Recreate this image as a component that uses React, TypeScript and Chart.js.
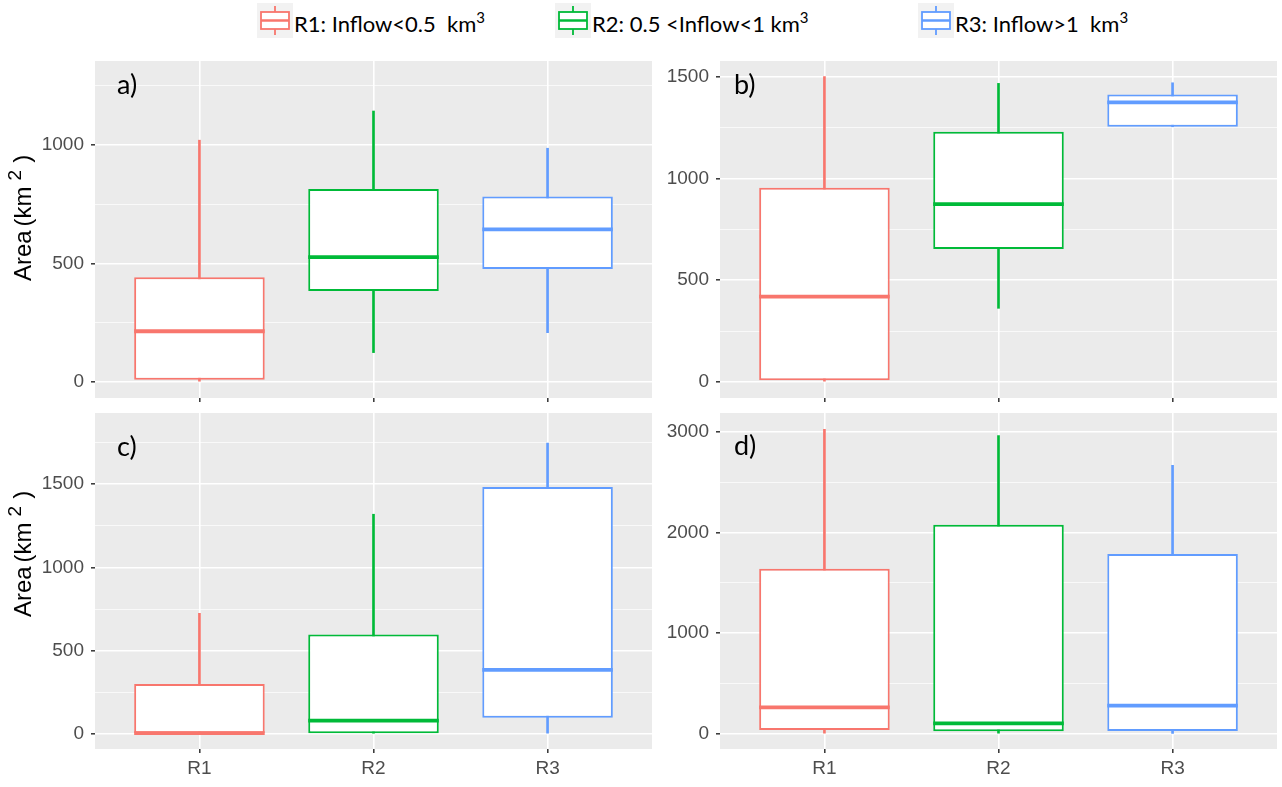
import React, { useEffect, useRef } from 'react';
import { Chart, registerables } from 'chart.js';

Chart.register(...registerables);

// Regions on the x axis and their colours
const regions = ['R1', 'R2', 'R3'];
const regionColors = ['#F8766D', '#00BA38', '#619CFF'];
const legendLabels = ['R1: Inflow<0.5  km', 'R2: 0.5 <Inflow<1 km', 'R3: Inflow>1  km'];
const panelTags = ['a)', 'b)', 'c)', 'd)'];
const yTitleWords = ['Area', '(km'];
const yTitleSup = '2';

// Panel a) five-number summaries (km²)
const aLow = [0, 124, 208];
const aQ1 = [10, 384, 477];
const aMedian = [214, 527, 644];
const aQ3 = [442, 814, 782];
const aHigh = [1020, 1143, 986];
const aTicks = [0, 500, 1000];
const aMinor = [250, 750, 1250];
const aRange = [-67.5, 1354];

// Panel b)
const bLow = [0, 362, 1254];
const bQ1 = [8, 653, 1254];
const bMedian = [419, 874, 1374];
const bQ3 = [954, 1229, 1413];
const bHigh = [1500, 1467, 1470];
const bTicks = [0, 500, 1000, 1500];
const bMinor = [250, 750, 1250];
const bRange = [-78.6, 1577];

// Panel c)
const cLow = [0, 0, 0];
const cQ1 = [0, 4, 98];
const cMedian = [5, 80, 385];
const cQ3 = [300, 597, 1483];
const cHigh = [725, 1320, 1747];
const cTicks = [0, 500, 1000, 1500];
const cMinor = [250, 750, 1250, 1750];
const cRange = [-90, 1928];

// Panel d)
const dLow = [0, 0, 5];
const dQ1 = [40, 27, 30];
const dMedian = [265, 106, 281];
const dQ3 = [1640, 2077, 1786];
const dHigh = [3023, 2960, 2666];
const dTicks = [0, 1000, 2000, 3000];
const dMinor = [500, 1500, 2500];
const dRange = [-149, 3185];

type PanelSpec = {
  tag: string;
  low: number[];
  q1: number[];
  median: number[];
  q3: number[];
  high: number[];
  ticks: number[];
  minor: number[];
  range: number[];
  showXLabels: boolean;
  showTitle: boolean;
  // canvas placement
  left: number;
  top: number;
  width: number;
  height: number;
  padTop: number;
  padRight: number;
  axisWidth: number;
  axisHeight: number;
  tagX: number;
  tagY: number;
  titleX: number;
  titleY: number;
};

const panels: PanelSpec[] = [
  {
    tag: panelTags[0], low: aLow, q1: aQ1, median: aMedian, q3: aQ3, high: aHigh,
    ticks: aTicks, minor: aMinor, range: aRange, showXLabels: false, showTitle: true,
    left: 0, top: 50, width: 660, height: 360, padTop: 11, padRight: 8, axisWidth: 95, axisHeight: 12,
    tagX: 117, tagY: 35, titleX: 24, titleY: 168,
  },
  {
    tag: panelTags[1], low: bLow, q1: bQ1, median: bMedian, q3: bQ3, high: bHigh,
    ticks: bTicks, minor: bMinor, range: bRange, showXLabels: false, showTitle: false,
    left: 660, top: 50, width: 622, height: 360, padTop: 11, padRight: 5, axisWidth: 60, axisHeight: 12,
    tagX: 74, tagY: 35, titleX: 0, titleY: 0,
  },
  {
    tag: panelTags[2], low: cLow, q1: cQ1, median: cMedian, q3: cQ3, high: cHigh,
    ticks: cTicks, minor: cMinor, range: cRange, showXLabels: true, showTitle: true,
    left: 0, top: 410, width: 660, height: 377, padTop: 3, padRight: 8, axisWidth: 95, axisHeight: 38,
    tagX: 117, tagY: 37, titleX: 24, titleY: 144,
  },
  {
    tag: panelTags[3], low: dLow, q1: dQ1, median: dMedian, q3: dQ3, high: dHigh,
    ticks: dTicks, minor: dMinor, range: dRange, showXLabels: true, showTitle: false,
    left: 660, top: 410, width: 622, height: 377, padTop: 3, padRight: 5, axisWidth: 60, axisHeight: 38,
    tagX: 74, tagY: 36, titleX: 0, titleY: 0,
  },
];

const AXIS_FONT = '"Liberation Sans", Arial, sans-serif';
const TAG_FONT = 'Lato, "Open Sans", sans-serif';
const PANEL_BG = '#EBEBEB';
const TICK_COLOR = '#333333';

// Draws the rotated "Area (km²)" axis title with a raised exponent
function drawYTitle(ctx: CanvasRenderingContext2D, cx: number, cy: number) {
  const big = `24px ${AXIS_FONT}`;
  const small = `19px ${AXIS_FONT}`;
  const pieces = [
    { t: yTitleWords[0], f: big, dy: 0, gap: 4 },
    { t: yTitleWords[1], f: big, dy: 0, gap: 6 },
    { t: yTitleSup, f: small, dy: -8, gap: 7 },
    { t: ')', f: big, dy: -1, gap: 0 },
  ];
  let total = 0;
  const widths = pieces.map((p) => {
    ctx.font = p.f;
    const w = ctx.measureText(p.t).width;
    total += w + p.gap;
    return w;
  });
  ctx.save();
  ctx.translate(cx, cy);
  ctx.rotate(-Math.PI / 2);
  ctx.fillStyle = '#000000';
  ctx.textBaseline = 'middle';
  ctx.textAlign = 'left';
  let x = -total / 2;
  pieces.forEach((p, i) => {
    ctx.font = p.f;
    ctx.fillText(p.t, x, p.dy);
    x += widths[i] + p.gap;
  });
  ctx.restore();
}

function makePanelPlugin(spec: PanelSpec) {
  return {
    id: 'panelDecor',
    beforeDraw(chart: any) {
      const { ctx, chartArea } = chart;
      ctx.save();
      ctx.fillStyle = PANEL_BG;
      ctx.fillRect(chartArea.left, chartArea.top, chartArea.right - chartArea.left, chartArea.bottom - chartArea.top);
      ctx.restore();
    },
    afterDatasetsDraw(chart: any) {
      const { ctx } = chart;
      const yScale = chart.scales.y;
      const meta = chart.getDatasetMeta(0);
      ctx.save();
      ctx.lineWidth = 3.8;
      ctx.lineCap = 'butt';
      meta.data.forEach((bar: any, i: number) => {
        const { x, width } = bar.getProps(['x', 'width'], true);
        const y = yScale.getPixelForValue(spec.median[i]);
        ctx.strokeStyle = regionColors[i];
        ctx.beginPath();
        ctx.moveTo(x - width / 2, y);
        ctx.lineTo(x + width / 2, y);
        ctx.stroke();
      });
      ctx.restore();
    },
    afterDraw(chart: any) {
      const { ctx } = chart;
      ctx.save();
      ctx.fillStyle = '#000000';
      ctx.font = `27px ${TAG_FONT}`;
      ctx.textBaseline = 'middle';
      ctx.textAlign = 'left';
      ctx.fillText(spec.tag, spec.tagX, spec.tagY);
      ctx.restore();
      if (spec.showTitle) drawYTitle(ctx, spec.titleX, spec.titleY);
    },
  };
}

function Panel({ spec }: { spec: PanelSpec }) {
  const ref = useRef<HTMLCanvasElement>(null);
  useEffect(() => {
    if (!ref.current) return;
    const allY = [...spec.ticks, ...spec.minor].sort((p, q) => p - q);
    const isMajor = (v: number) => spec.ticks.includes(v);
    const chart = new Chart(ref.current, {
      type: 'bar',
      data: {
        datasets: [
          {
            label: 'box',
            data: regions.map((_, i) => ({ x: i + 1, y: [spec.q1[i], spec.q3[i]] })) as any,
            backgroundColor: '#FFFFFF',
            borderColor: regionColors,
            borderWidth: 2,
            borderSkipped: false,
            barPercentage: 0.75,
            categoryPercentage: 1,
            grouped: false,
            order: 0,
          },
          {
            label: 'whisker',
            data: regions.map((_, i) => ({ x: i + 1, y: [spec.low[i], spec.high[i]] })) as any,
            backgroundColor: regionColors,
            borderWidth: 0,
            barThickness: 2,
            grouped: false,
            order: 1,
          },
        ],
      },
      options: {
        responsive: false,
        animation: false,
        events: [],
        layout: { padding: { top: spec.padTop, right: spec.padRight, left: 0, bottom: 0 } },
        plugins: { legend: { display: false }, tooltip: { enabled: false } },
        scales: {
          x: {
            type: 'linear',
            min: 0.4,
            max: 3.6,
            offset: false,
            afterBuildTicks: (axis: any) => {
              axis.ticks = regions.map((_, i) => ({ value: i + 1 }));
            },
            afterFit: (axis: any) => {
              axis.height = spec.axisHeight;
              axis.paddingLeft = 0;
              axis.paddingRight = 0;
            },
            border: { display: false },
            grid: {
              color: '#FFFFFF',
              lineWidth: 1.6,
              tickColor: TICK_COLOR,
              tickWidth: 1.5,
              tickLength: 4,
              offset: false,
            },
            ticks: {
              autoSkip: false,
              maxRotation: 0,
              padding: 4,
              color: '#4D4D4D',
              font: { family: AXIS_FONT, size: 19 },
              callback: (v: any) => (spec.showXLabels ? regions[Math.round(Number(v)) - 1] : ''),
            },
          },
          y: {
            type: 'linear',
            min: spec.range[0],
            max: spec.range[1],
            beginAtZero: false,
            afterBuildTicks: (axis: any) => {
              axis.ticks = allY.map((v) => ({ value: v }));
            },
            afterFit: (axis: any) => {
              axis.width = spec.axisWidth;
              axis.paddingTop = 0;
              axis.paddingBottom = 0;
            },
            border: { display: false },
            grid: {
              color: '#FFFFFF',
              lineWidth: (c: any) => (isMajor(c.tick?.value) ? 1.6 : 0.7),
              tickColor: (c: any) => (isMajor(c.tick?.value) ? TICK_COLOR : 'rgba(0,0,0,0)'),
              tickWidth: 1.5,
              tickLength: 4,
            },
            ticks: {
              autoSkip: false,
              padding: 7,
              color: '#4D4D4D',
              font: { family: AXIS_FONT, size: 19 },
              callback: (v: any) => (isMajor(Number(v)) ? String(v) : ''),
            },
          },
        },
      } as any,
      plugins: [makePanelPlugin(spec)],
    });
    return () => chart.destroy();
  }, [spec]);
  return (
    <canvas
      ref={ref}
      width={spec.width}
      height={spec.height}
      style={{ position: 'absolute', left: spec.left, top: spec.top, width: spec.width, height: spec.height }}
    />
  );
}

// Small boxplot glyph used as a legend key
function LegendKey({ color, left }: { color: string; left: number }) {
  return (
    <svg
      width={36}
      height={35}
      style={{ position: 'absolute', left, top: 3, background: '#F2F2F2' }}
    >
      <line x1={18} y1={3} x2={18} y2={32} stroke={color} strokeWidth={1.8} />
      <rect x={4} y={9} width={28} height={17} fill="#FFFFFF" stroke={color} strokeWidth={1.8} />
      <line x1={4} y1={17.5} x2={32} y2={17.5} stroke={color} strokeWidth={2.5} />
    </svg>
  );
}

const legendKeyLeft = [257, 555, 918];

export default function App() {
  return (
    <div style={{ position: 'absolute', left: 0, top: 0, width: 1282, height: 787, background: '#FFFFFF', overflow: 'hidden' }}>
      {legendLabels.map((label, i) => (
        <React.Fragment key={label}>
          <LegendKey color={regionColors[i]} left={legendKeyLeft[i]} />
          <div
            style={{
              position: 'absolute',
              left: legendKeyLeft[i] + 37,
              top: 10,
              fontFamily: TAG_FONT,
              fontSize: 22,
              lineHeight: '27px',
              color: '#000000',
              whiteSpace: 'pre',
            }}
          >
            {label}
            <sup style={{ fontSize: 15, verticalAlign: 'top', position: 'relative', top: -6 }}>3</sup>
          </div>
        </React.Fragment>
      ))}
      {panels.map((p) => (
        <Panel key={p.tag} spec={p} />
      ))}
    </div>
  );
}
